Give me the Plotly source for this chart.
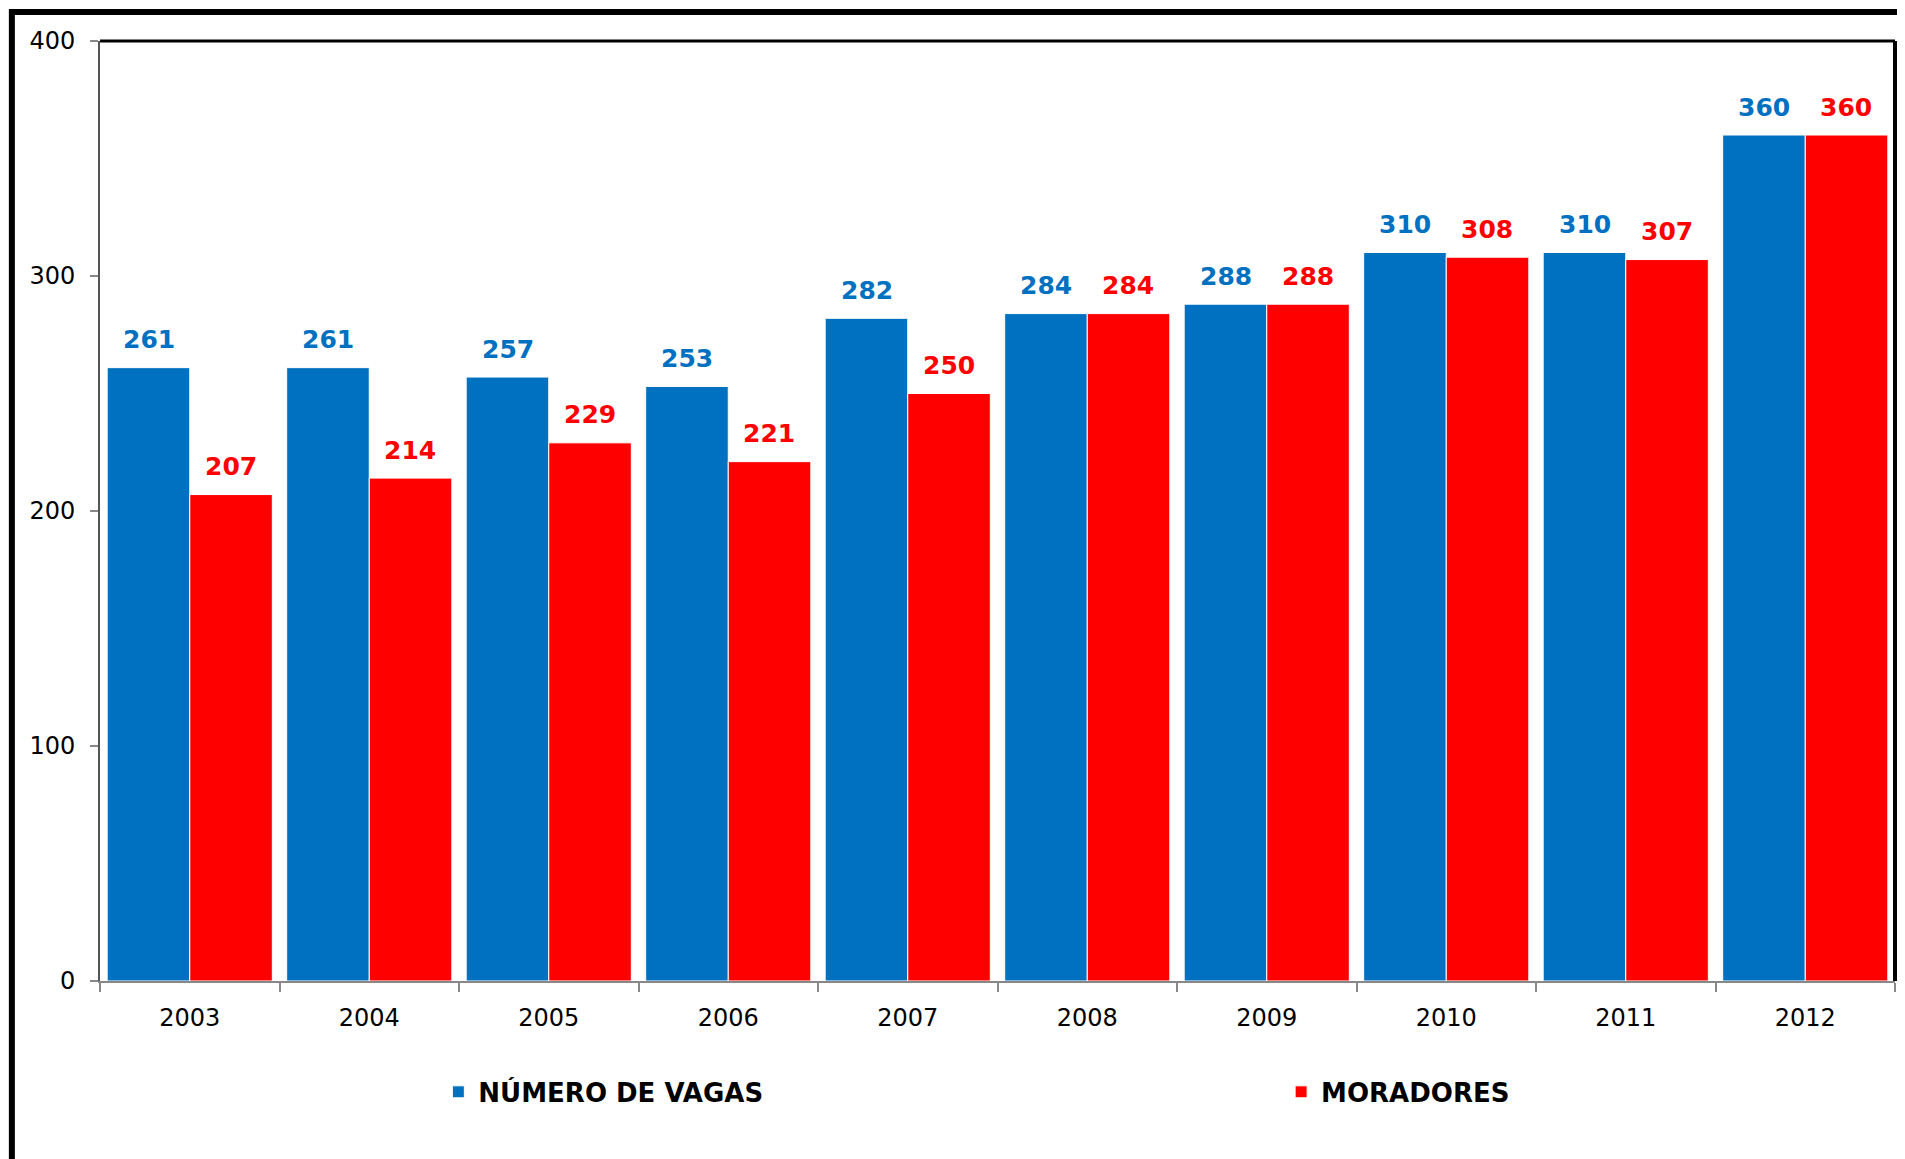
import plotly.graph_objects as go

years = ["2003", "2004", "2005", "2006", "2007", "2008", "2009", "2010", "2011", "2012"]
vagas = [261, 261, 257, 253, 282, 284, 288, 310, 310, 360]
moradores = [207, 214, 229, 221, 250, 284, 288, 308, 307, 360]
series_names = ["NÚMERO DE VAGAS", "MORADORES"]
y_ticks = [0, 100, 200, 300, 400]

BLUE = "#0070C0"
RED = "#FF0000"
FONT = "DejaVu Sans, Verdana, sans-serif"

fig = go.Figure()
fig.add_trace(go.Bar(
    x=years, y=vagas, name=series_names[0],
    marker=dict(color=BLUE, line=dict(color="white", width=1)),
    legend="legend",
))
fig.add_trace(go.Bar(
    x=years, y=moradores, name=series_names[1],
    marker=dict(color=RED, line=dict(color="white", width=1)),
    legend="legend2",
))

annotations = []
for i, (v, m) in enumerate(zip(vagas, moradores)):
    annotations.append(dict(x=i, y=v, xref="x", yref="y", text=f"<b>{v}</b>",
                            showarrow=False, xshift=-41, yshift=28, yanchor="middle",
                            font=dict(family=FONT, size=25, color=BLUE)))
    annotations.append(dict(x=i, y=m, xref="x", yref="y", text=f"<b>{m}</b>",
                            showarrow=False, xshift=41, yshift=28, yanchor="middle",
                            font=dict(family=FONT, size=25, color=RED)))

shapes = [
    # outer chart border (extends past the picture on right/bottom)
    dict(type="rect", xref="paper", yref="paper", x0=-0.0491, x1=1.02, y0=-0.25, y1=1.0309,
         line=dict(color="black", width=6), fillcolor="rgba(0,0,0,0)", layer="above"),
    # plot frame top and right
    dict(type="line", xref="paper", yref="paper", x0=0, x1=1, y0=1, y1=1,
         line=dict(color="black", width=3)),
    dict(type="line", xref="paper", yref="paper", x0=1, x1=1, y0=0, y1=1,
         line=dict(color="black", width=4)),
]

fig.update_layout(
    width=1897, height=1151,
    margin=dict(l=92, r=10, t=33, b=178),
    paper_bgcolor="white", plot_bgcolor="white",
    barmode="group", bargap=0.08, bargroupgap=0,
    font=dict(family=FONT, size=24, color="black"),
    annotations=annotations,
    shapes=shapes,
    legend=dict(orientation="h", x=0.1885, y=-0.118, xanchor="left", yanchor="middle",
                font=dict(family=FONT, size=26, color="black", weight="bold"),
                bgcolor="rgba(0,0,0,0)"),
    legend2=dict(orientation="h", x=0.658, y=-0.118, xanchor="left", yanchor="middle",
                 font=dict(family=FONT, size=26, color="black", weight="bold"),
                 bgcolor="rgba(0,0,0,0)"),
    showlegend=True,
)
fig.update_xaxes(
    type="category", range=[-0.5, len(years) - 0.5],
    showgrid=False, showline=True, linecolor="#888888", linewidth=2,
    ticks="outside", tickson="boundaries", ticklen=9, tickcolor="#888888", tickwidth=2,
    ticklabelstandoff=14, tickfont=dict(family=FONT, size=24, color="black"),
)
fig.update_yaxes(
    range=[0, 400], tickvals=y_ticks, showgrid=False, zeroline=False,
    showline=True, linecolor="#555555", linewidth=2,
    ticks="outside", ticklen=8, tickcolor="#888888", tickwidth=2,
    ticklabelstandoff=10, tickfont=dict(family=FONT, size=24, color="black"),
)

fig.write_html("out.html")
